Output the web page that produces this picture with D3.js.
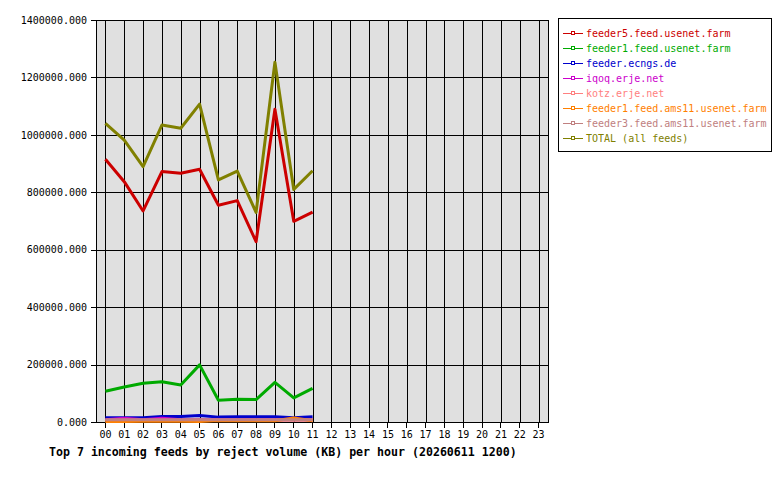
<!DOCTYPE html>
<html>
<head>
<meta charset="utf-8">
<script src="https://cdn.jsdelivr.net/npm/d3@7"></script>
<style>
  body { margin: 0; background: #fff; }
  svg { display: block; font-family: "DejaVu Sans Mono", "Liberation Mono", monospace; }
</style>
</head>
<body>
<svg id="chart"></svg>
<script>
"use strict";

// =================== DATA ===================
const hours = d3.range(24).map(h => String(h).padStart(2, "0"));
const feeds = [
  "feeder5.feed.usenet.farm",
  "feeder1.feed.usenet.farm",
  "feeder.ecngs.de",
  "iqoq.erje.net",
  "kotz.erje.net",
  "feeder1.feed.ams11.usenet.farm",
  "feeder3.feed.ams11.usenet.farm",
  "TOTAL (all feeds)"
];
const feedColors = ["#cc0000", "#00aa00", "#0000cc", "#cc00cc", "#ff8080", "#ff8000", "#c08080", "#808000"];

// KB per hour, hours 00..11
const feeder5 = [915000, 837000, 735000, 872000, 866000, 880000, 755000, 771000, 628000, 1089000, 699000, 731000];
const feeder1 = [107000, 122000, 135000, 140000, 129000, 199000, 76000, 79000, 78000, 138000, 84000, 117000];
const ecngs = [15000, 15000, 15000, 19000, 19000, 23000, 17000, 18000, 18000, 18000, 15000, 18000];
const iqoq = [8000, 13000, 8000, 13000, 8000, 8000, 8000, 8000, 8000, 8000, 8000, 8000];
const kotz = [6000, 6000, 6000, 6000, 6000, 6000, 6000, 6000, 6000, 6000, 6000, 6000];
const ams11a = [2000, 2000, 3000, 3000, 3000, 2000, 5000, 4000, 4000, 4000, 14000, 4000];
const ams11b = [8000, 8000, 8000, 8000, 8000, 8000, 8000, 8000, 8000, 8000, 8000, 8000];
const total = [1040000, 982000, 889000, 1034000, 1023000, 1107000, 843000, 874000, 730000, 1253000, 810000, 875000];
const series = [feeder5, feeder1, ecngs, iqoq, kotz, ams11a, ams11b, total];

const yTicks = [0, 200000, 400000, 600000, 800000, 1000000, 1200000, 1400000];
const title = "Top 7 incoming feeds by reject volume (KB) per hour (20260611 1200)";

// =================== SETUP ===================
const W = 780, H = 480;
const plot = { left: 96, right: 548, top: 20, bottom: 422 };

const svg = d3.select("#chart").attr("width", W).attr("height", H);

const x = d3.scaleBand().domain(hours).range([plot.left, plot.right]).padding(0);
const xc = h => x(h) + x.bandwidth() / 2;
const y = d3.scaleLinear().domain([0, 1400000]).range([plot.bottom, plot.top]);

// background
svg.append("rect")
  .attr("x", plot.left).attr("y", plot.top)
  .attr("width", plot.right - plot.left).attr("height", plot.bottom - plot.top)
  .attr("fill", "#e0e0e0");

// grid
const grid = svg.append("g").attr("stroke", "#000").attr("stroke-width", 1).attr("shape-rendering", "crispEdges");
hours.forEach(h => {
  grid.append("line")
    .attr("x1", Math.round(xc(h)) + 0.5).attr("x2", Math.round(xc(h)) + 0.5)
    .attr("y1", plot.top).attr("y2", plot.bottom);
});
yTicks.forEach(t => {
  grid.append("line")
    .attr("x1", plot.left).attr("x2", plot.right)
    .attr("y1", Math.round(y(t)) + 0.5).attr("y2", Math.round(y(t)) + 0.5);
});

// frame
svg.append("rect")
  .attr("x", plot.left + 0.5).attr("y", plot.top + 0.5)
  .attr("width", plot.right - plot.left).attr("height", plot.bottom - plot.top)
  .attr("fill", "none").attr("stroke", "#000").attr("shape-rendering", "crispEdges");

// =================== AXES ===================
const xAxis = svg.append("g")
  .attr("transform", `translate(0,${plot.bottom + 1})`)
  .call(d3.axisBottom(x).tickSize(5).tickSizeOuter(0).tickPadding(3));
const yAxis = svg.append("g")
  .attr("transform", `translate(${plot.left},0)`)
  .call(d3.axisLeft(y).tickValues(yTicks).tickFormat(d3.format(".3f")).tickSize(5).tickSizeOuter(0).tickPadding(4));

[xAxis, yAxis].forEach(a => {
  a.select(".domain").remove();
  a.selectAll("line").attr("stroke", "#000").attr("shape-rendering", "crispEdges");
  a.selectAll("text")
    .attr("fill", "#000")
    .style("font-family", "'DejaVu Sans Mono', monospace")
    .style("font-size", "10px");
});

// =================== LINES ===================
const line = d3.line()
  .x((d, i) => xc(hours[i]))
  .y(d => y(d));

series.forEach((s, i) => {
  svg.append("path")
    .datum(s)
    .attr("d", line)
    .attr("fill", "none")
    .attr("stroke", feedColors[i])
    .attr("stroke-width", 3)
    .attr("stroke-linejoin", "round");
});

// =================== TITLE ===================
svg.append("text")
  .attr("x", 49).attr("y", 456)
  .style("font-size", "11.6px")
  .style("font-weight", "bold")
  .text(title);

// =================== LEGEND ===================
const lg = { x: 558, y: 18, w: 213, h: 133 };
svg.append("rect")
  .attr("x", lg.x + 0.5).attr("y", lg.y + 0.5)
  .attr("width", lg.w).attr("height", lg.h)
  .attr("fill", "#fff").attr("stroke", "#000").attr("shape-rendering", "crispEdges");

feeds.forEach((name, i) => {
  const ry = lg.y + 15 + i * 15;
  svg.append("line")
    .attr("x1", lg.x + 5).attr("x2", lg.x + 25)
    .attr("y1", ry + 0.5).attr("y2", ry + 0.5)
    .attr("stroke", feedColors[i]).attr("shape-rendering", "crispEdges");
  svg.append("rect")
    .attr("x", lg.x + 13.5).attr("y", ry - 1.5)
    .attr("width", 3).attr("height", 3)
    .attr("fill", "#fff").attr("stroke", feedColors[i]).attr("shape-rendering", "crispEdges");
  svg.append("text")
    .attr("x", lg.x + 28).attr("y", ry + 4)
    .attr("fill", feedColors[i])
    .style("font-size", "10px")
    .text(name);
});
</script>
</body>
</html>
